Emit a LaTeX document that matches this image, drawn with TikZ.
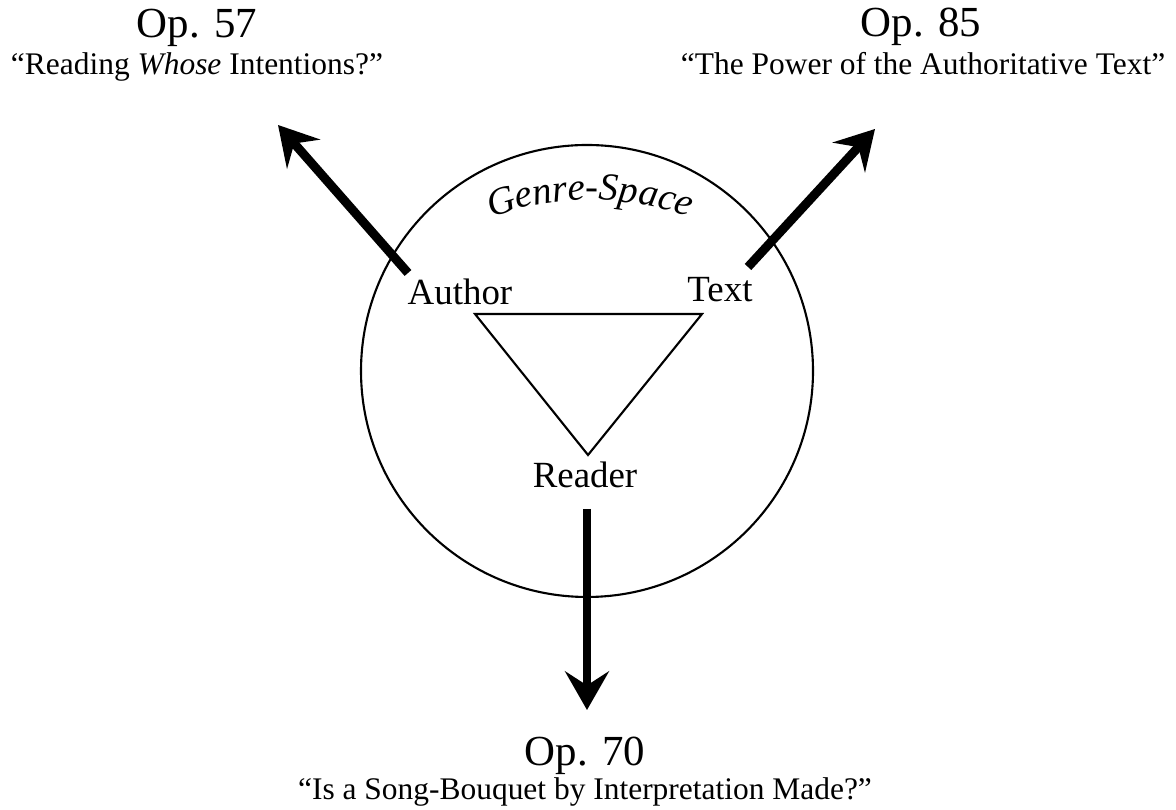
\documentclass[tikz,border=0pt]{standalone}
\usepackage{fontspec}
\setmainfont{Liberation Serif}
\newfontfamily\genrefont{Liberation Serif Italic}
\usetikzlibrary{arrows.meta,decorations.text}
\begin{document}
\begin{tikzpicture}[x=0.02cm, y=0.02cm,
    every node/.style={inner sep=0pt, anchor=base},
    vertex/.style={font=\fontsize{21}{25}\selectfont},
    opus/.style={font=\fontsize{24.4}{29}\selectfont},
    subtitle/.style={font=\fontsize{17.9}{21}\selectfont},
    ring/.style={line width=1.2pt},
    bigarrow/.style={line width=5.1pt, -{Stealth[length=22pt, width=25pt, inset=8pt]}}]
    \useasboundingbox (0,0) rectangle (1176,810);
    % genre space
    \draw[ring] (587,439) circle[radius=226];
    \path[decorate, decoration={text along path, text align=center,
        text={|\genrefont\fontsize{22}{26}\selectfont|Genre-Space}}]
        (590,320) ++(125:290) arc[start angle=125, end angle=55, radius=290];
    % the three corners
    \node[vertex] (author) at (460,505) {Author};
    \node[vertex] (text) at (720,508) {Text};
    \node[vertex] (reader) at (585,322) {Reader};
    \coordinate (ta) at (475,496);
    \coordinate (tt) at (702,496);
    \coordinate (tr) at (588,355);
    \draw[ring] (ta) -- (tt) -- (tr) -- cycle;
    % arrows out to the essays
    \coordinate (a0) at (408,537); \coordinate (a1) at (278,685);
    \coordinate (t0) at (748,543); \coordinate (t1) at (875,681);
    \coordinate (r0) at (587,301); \coordinate (r1) at (587,100);
    \draw[bigarrow] (a0) -- (a1);
    \draw[bigarrow] (t0) -- (t1);
    \draw[bigarrow] (r0) -- (r1);
    % essay titles
    \node[opus] (op57) at (197,772) {Op. 57};
    \node[subtitle] (op57t) at (197,735) {“Reading \textit{Whose} Intentions?”};
    \node[opus] (op85) at (921,773) {Op. 85};
    \node[subtitle] (op85t) at (923,735) {“The Power of the Authoritative Text”};
    \node[opus] (op70) at (585,44) {Op. 70};
    \node[subtitle] (op70t) at (585,10) {“Is a Song-Bouquet by Interpretation Made?”};
\end{tikzpicture}
\end{document}
